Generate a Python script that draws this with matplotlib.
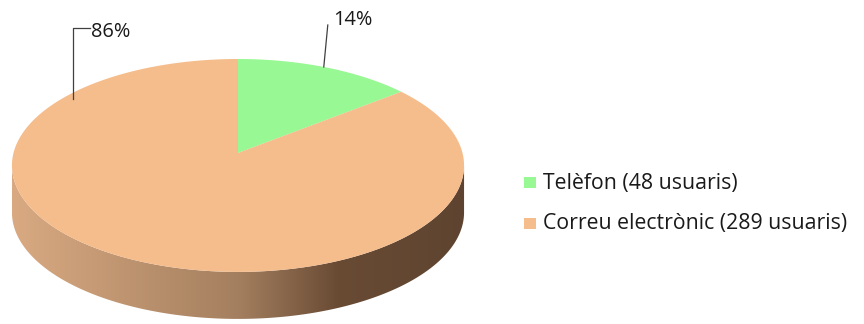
import numpy as np
import matplotlib.pyplot as plt
from matplotlib.patches import Polygon, Rectangle
from matplotlib.colors import LinearSegmentedColormap

plt.rcParams['font.family'] = ['Open Sans', 'DejaVu Sans']

# data
labels = ['Telèfon (48 usuaris)', 'Correu electrònic (289 usuaris)']
users = [48, 289]
colors = ['#98F893', '#F5BC8C']

# 3d pie in pixel space: apex, radii, perspective factor, wall depth
cx, cy, a, b, k, depth = 238, 153, 224.5, 105, 0.117, 47

fig = plt.figure(figsize=(8.64, 3.24), dpi=100)
ax = fig.add_axes([0, 0, 1, 1])
ax.set_xlim(0, 864)
ax.set_ylim(324, 0)
ax.axis('off')


def pt(theta, dy=0):
    t = np.radians(theta)
    w = 1 + k * np.sin(t)
    return cx + a * np.cos(t) / w, cy - b * np.sin(t) / w + dy


# side wall with horizontal gradient
d = np.degrees(np.arcsin(k))
t = np.linspace(180 + d, 360 - d, 300)
top = np.array([pt(v) for v in t])
bot = np.array([pt(v, depth) for v in t[::-1]])
wall = Polygon(np.vstack([top, bot]), closed=True, fc='none', ec='none')
ax.add_patch(wall)
cmap = LinearSegmentedColormap.from_list('side', [(0, '#D9AA82'), (0.5, '#A47F5F'),
                                                  (0.72, '#694B34'), (1, '#5E4430')])
grad = np.linspace(0, 1, 256).reshape(1, -1)
im = ax.imshow(grad, cmap=cmap, aspect='auto',
               extent=[top[:, 0].min(), top[:, 0].max(), 330, 100], zorder=1)
im.set_clip_path(wall)

# top face wedges, clockwise from 12 o'clock
total = sum(users)
start = 90.0
for v, c in zip(users, colors):
    end = start - 360.0 * v / total
    arc = np.linspace(start, end, 300)
    pts = [(cx, cy)] + [pt(x) for x in arc]
    ax.add_patch(Polygon(pts, closed=True, fc=c, ec='none', zorder=2))
    start = end

# percentage labels with leader lines
pcts = ['{:.0f}%'.format(100.0 * v / total) for v in users]
x0, y0 = pt(65)
ax.plot([x0, x0 + 4], [y0, 25], color='#404040', lw=0.9, zorder=3)
ax.text(333, 20, pcts[0], fontsize=14.4, va='center', ha='left', color='#1a1a1a')

x1, y1 = pt(142)
ax.plot([x1, x1, x1 + 17], [y1 + 6, 28, 28], color='#404040', lw=0.9, zorder=3)
ax.text(91, 32, pcts[1], fontsize=14.4, va='center', ha='left', color='#1a1a1a')

# legend
for i, (lab, c) in enumerate(zip(labels, colors)):
    yy = 183 + 41 * i
    ax.add_patch(Rectangle((524, yy - 6), 12, 11, fc=c, ec='none'))
    ax.text(543, yy, lab, fontsize=15.3, va='center', ha='left', color='#1a1a1a')

fig.savefig('out.png', dpi=100)
